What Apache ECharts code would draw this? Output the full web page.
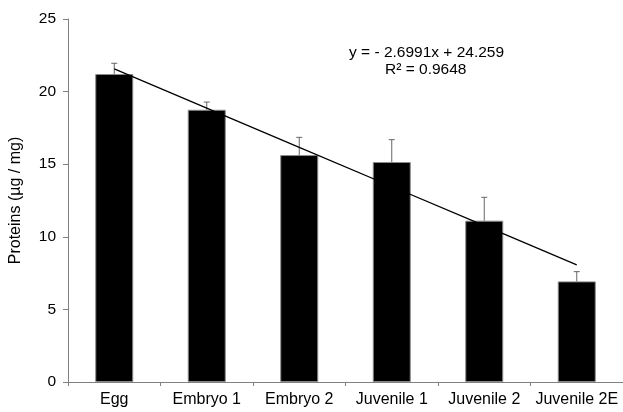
<!DOCTYPE html>
<html>
<head>
<meta charset="utf-8">
<script src="https://cdn.jsdelivr.net/npm/echarts@6/dist/echarts.min.js"></script>
<style>
  html, body { margin: 0; padding: 0; background: #fff; }
  #chart { width: 623px; height: 412px; }
</style>
</head>
<body>
<div id="chart"></div>
<script>
// Developmental stages
const stages = ['Egg', 'Embryo 1', 'Embryo 2', 'Juvenile 1', 'Juvenile 2', 'Juvenile 2E'];
// Mean protein content (µg / mg)
const proteinMean = [21.21, 18.75, 15.63, 15.15, 11.11, 6.93];
// Standard deviation (upper error bar)
const proteinSD = [0.74, 0.53, 1.22, 1.54, 1.61, 0.67];
// Linear trend fitted over stage index 1..6
const trendSlope = -2.6991;
const trendIntercept = 24.259;
const trendR2 = 0.9648;
// Y axis ticks
const yMin = 0, yMax = 25, yStep = 5;

const FONT = '"Liberation Sans", Arial, sans-serif';

const trendValues = stages.map((_, i) => trendSlope * (i + 1) + trendIntercept);
const errData = stages.map((_, i) => [i, proteinMean[i], proteinMean[i] + proteinSD[i]]);

const chart = echarts.init(document.getElementById('chart'), null, { renderer: 'canvas' });

chart.setOption({
  animation: false,
  backgroundColor: '#ffffff',
  grid: { left: 67, right: -2, top: 19, bottom: 30, containLabel: false },
  xAxis: {
    type: 'category',
    data: stages,
    boundaryGap: true,
    axisLine: { lineStyle: { color: '#808080', width: 1 } },
    axisTick: { show: true, length: 4, inside: false, alignWithLabel: false, lineStyle: { color: '#808080' } },
    axisLabel: { color: '#000', fontFamily: FONT, fontSize: 16, margin: 10, interval: 0 },
    splitLine: { show: false }
  },
  yAxis: {
    type: 'value',
    min: yMin, max: yMax, interval: yStep,
    name: 'Proteins (µg / mg)',
    nameLocation: 'middle',
    nameGap: 44,
    nameTextStyle: { color: '#000', fontFamily: FONT, fontSize: 16 },
    axisLine: { show: true, lineStyle: { color: '#808080', width: 1 } },
    axisTick: { show: true, length: 5, lineStyle: { color: '#808080' } },
    axisLabel: { color: '#000', fontFamily: FONT, fontSize: 15.5, margin: 12 },
    splitLine: { show: false }
  },
  series: [
    {
      name: 'Proteins',
      type: 'bar',
      data: proteinMean,
      barWidth: 38,
      itemStyle: { color: '#000', borderColor: '#8a8a8a', borderWidth: 1 },
      z: 2
    },
    {
      name: 'SD',
      type: 'custom',
      data: errData,
      z: 3,
      renderItem: function (params, api) {
        const base = api.coord([api.value(0), api.value(1)]);
        const top = api.coord([api.value(0), api.value(2)]);
        const hw = 3;
        return {
          type: 'group',
          children: [
            { type: 'line', shape: { x1: base[0], y1: base[1], x2: top[0], y2: top[1] },
              style: { stroke: '#666', lineWidth: 1 } },
            { type: 'line', shape: { x1: top[0] - hw, y1: top[1], x2: top[0] + hw, y2: top[1] },
              style: { stroke: '#666', lineWidth: 1 } }
          ]
        };
      }
    },
    {
      name: 'Trend',
      type: 'line',
      data: trendValues,
      showSymbol: false,
      symbol: 'none',
      lineStyle: { color: '#000', width: 1.3 },
      z: 4
    }
  ],
  graphic: [
    {
      type: 'text',
      left: 349,
      top: 45,
      style: {
        text: 'y = - ' + Math.abs(trendSlope).toFixed(4) + 'x + ' + trendIntercept.toFixed(3),
        fill: '#000',
        font: '15.5px ' + FONT
      }
    },
    {
      type: 'text',
      left: 385,
      top: 62,
      style: {
        text: 'R² = ' + trendR2.toFixed(4),
        fill: '#000',
        font: '15.5px ' + FONT
      }
    }
  ]
});
</script>
</body>
</html>
